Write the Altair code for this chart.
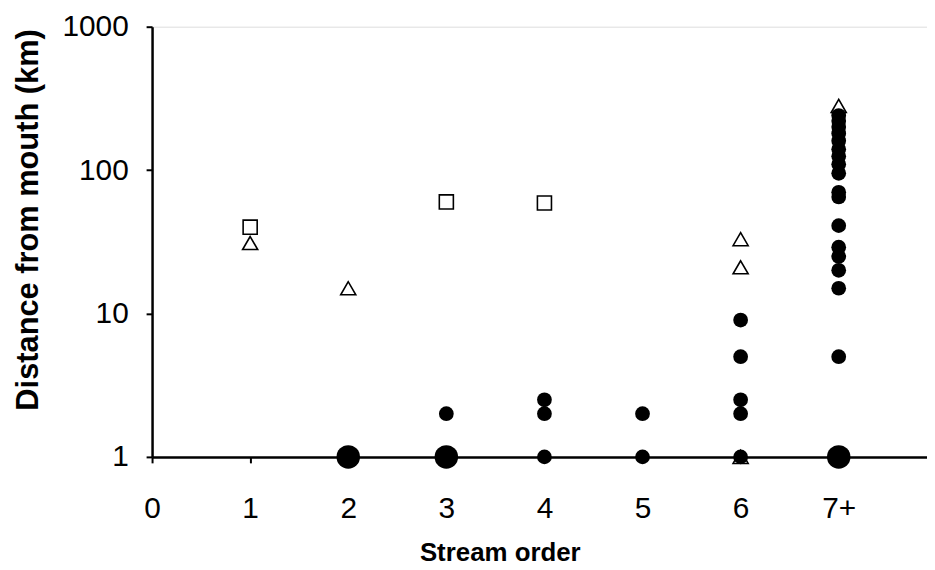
import altair as alt
import pandas as pd

# Filled circles (small)
circle_order = [3, 4, 4, 4, 5, 5, 6, 6, 6, 6, 6,
                7, 7, 7, 7, 7, 7, 7, 7, 7, 7, 7, 7, 7, 7, 7, 7, 7]
circle_dist = [2, 2.5, 2, 1, 2, 1, 9, 5, 2.5, 2, 1,
               5, 15, 20, 25, 29, 41, 65, 70, 95, 110, 125, 140, 160, 180, 200, 220, 240]
# Filled circles (large)
big_order = [2, 3, 7]
big_dist = [1, 1, 1]
# Open squares
square_order = [1, 3, 4]
square_dist = [40, 60, 59]
# Open triangles
tri_order = [1, 2, 6, 6, 6, 7]
tri_dist = [31, 15, 33, 21, 1, 280]

x_ticks = [0, 1, 2, 3, 4, 5, 6, 7]
y_ticks = [1, 10, 100, 1000]

FONT = "Arial, Liberation Sans, sans-serif"

x_enc = alt.X(
    "order:Q",
    scale=alt.Scale(domain=[0, 7.9], nice=False, zero=False),
    axis=alt.Axis(
        values=x_ticks,
        labelExpr="datum.value == 7 ? '7+' : datum.label",
        title="Stream order",
        titleFontSize=26, titleFontWeight="bold", titleFont=FONT, titleColor="black",
        titlePadding=16, titleX=350,
        labelFontSize=30, labelFont=FONT, labelColor="black", labelPadding=31,
        domainColor="black", domainWidth=2.5, tickColor="black", tickWidth=2, tickSize=6,
        grid=False, labelFlush=False,
    ),
)
y_enc = alt.Y(
    "dist:Q",
    scale=alt.Scale(type="log", domain=[1, 1000], nice=False),
    axis=alt.Axis(
        values=y_ticks, format="d",
        title="Distance from mouth (km)",
        titleFontSize=31, titleFontWeight="bold", titleFont=FONT, titleColor="black",
        titlePadding=18, titleY=194,
        labelFontSize=30, labelFont=FONT, labelColor="black", labelPadding=18,
        domainColor="black", domainWidth=2.5, tickColor="black", tickWidth=2, tickSize=6,
        grid=False, labelFlush=False,
    ),
)

tri_df = pd.DataFrame({"order": tri_order, "dist": tri_dist})
sq_df = pd.DataFrame({"order": square_order, "dist": square_dist})
c_df = pd.DataFrame({"order": circle_order, "dist": circle_dist})
b_df = pd.DataFrame({"order": big_order, "dist": big_dist})

tri = alt.Chart(tri_df).mark_point(
    shape="triangle-up", size=230, filled=True, fill="white", stroke="black", strokeWidth=1.6, opacity=1
).encode(x=x_enc, y=y_enc)
sq = alt.Chart(sq_df).mark_point(
    shape="square", size=200, filled=True, fill="white", stroke="black", strokeWidth=1.6, opacity=1
).encode(x=x_enc, y=y_enc)
circ = alt.Chart(c_df).mark_point(
    shape="circle", size=220, filled=True, color="black", opacity=1
).encode(x=x_enc, y=y_enc)
big = alt.Chart(b_df).mark_point(
    shape="circle", size=560, filled=True, color="black", opacity=1
).encode(x=x_enc, y=y_enc)

chart = alt.layer(tri, sq, circ, big).properties(
    width=780, height=433,
    autosize=alt.AutoSizeParams(type="none"),
    padding={"left": 145, "top": 17, "right": 0, "bottom": 110},
).configure_view(stroke=None).configure(background="white")

chart.save("out.html", embed_options={"renderer": "svg", "actions": False})
